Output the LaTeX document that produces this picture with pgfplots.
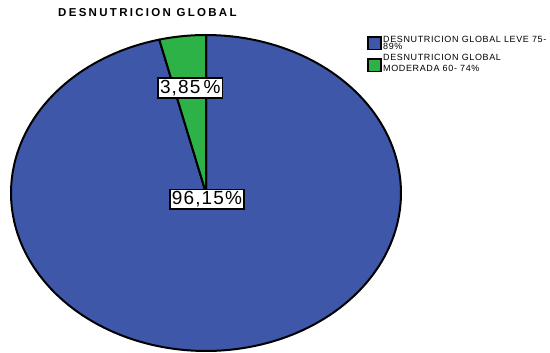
\documentclass[border=0pt]{standalone}
\usepackage{pgfplots}
\pgfplotsset{compat=1.18}
\usepackage{pgfplotstable}
\usepackage{fontspec}
\setmainfont{Liberation Sans}
\definecolor{leve}{RGB}{62,87,168}
\definecolor{moderada}{RGB}{45,178,72}

% porcentaje de cada grupo
\pgfplotstableread{
grupo porcentaje
leve 96.15
moderada 3.85
}\desnutricion

\begin{document}
\begin{tikzpicture}[x=1pt,y=1pt]
\pgfplotstablegetelem{0}{porcentaje}\of\desnutricion \let\pLeve\pgfplotsretval
\pgfplotstablegetelem{1}{porcentaje}\of\desnutricion \let\pMod\pgfplotsretval
% sector angles, counter-clockwise from 12 o'clock
\pgfmathsetmacro\aIni{90}
\pgfmathsetmacro\aMid{90+3.6*\pMod}
\pgfmathsetmacro\aFin{\aMid+3.6*\pLeve}
\pgfmathsetmacro\mMod{(\aIni+\aMid)/2}
\pgfmathsetmacro\mLeve{(\aMid+\aFin)/2}
\path[use as bounding box] (0,0) rectangle (550,353);
\begin{axis}[at={(206pt,160pt)}, anchor=center, scale only axis,
  width=390pt, height=316pt, hide axis,
  xmin=-1, xmax=1, ymin=-1, ymax=1, clip=false]
\addplot[fill=leve, draw=black, line width=2pt, line join=round,
  domain=\aMid:\aFin, samples=181] ({cos(x)},{sin(x)}) -- (axis cs:0,0) -- cycle;
\addplot[fill=moderada, draw=black, line width=2pt, line join=round,
  domain=\aIni:\aMid, samples=20] ({cos(x)},{sin(x)}) -- (axis cs:0,0) -- cycle;
\node[draw=black, line width=1.8pt, fill=white, inner sep=2pt,
  font=\fontsize{19}{19}\selectfont\addfontfeature{LetterSpace=6}]
  at (axis cs:{0.67*cos(\mMod)},{0.67*sin(\mMod)}) {3,85\,\%};
\node[draw=black, line width=1.8pt, fill=white, inner sep=2pt,
  font=\fontsize{19}{19}\selectfont\addfontfeature{LetterSpace=6}]
  at (axis cs:{0.04*cos(\mLeve)},{0.04*sin(\mLeve)}) {96,15\%};
\end{axis}
% title
\node[anchor=base west, inner sep=0pt,
  font=\bfseries\fontsize{11.5}{13}\selectfont\addfontfeature{LetterSpace=20}]
  at (58,336) {DESNUTRICION GLOBAL};
% legend
\draw[fill=leve, line width=1.6pt] (368,303.5) rectangle (381,316);
\draw[fill=moderada, line width=1.6pt] (368,281.5) rectangle (381,294);
\node[anchor=north west, inner sep=0pt, align=left,
  font=\fontsize{9}{7.5}\selectfont\addfontfeature{LetterSpace=7}]
  at (383,317) {DESNUTRICION GLOBAL LEVE 75-\\89\%};
\node[anchor=north west, inner sep=0pt, align=left,
  font=\fontsize{9}{11}\selectfont\addfontfeature{LetterSpace=7}]
  at (383,298.6) {DESNUTRICION GLOBAL\\MODERADA 60- 74\%};
\end{tikzpicture}
\end{document}
